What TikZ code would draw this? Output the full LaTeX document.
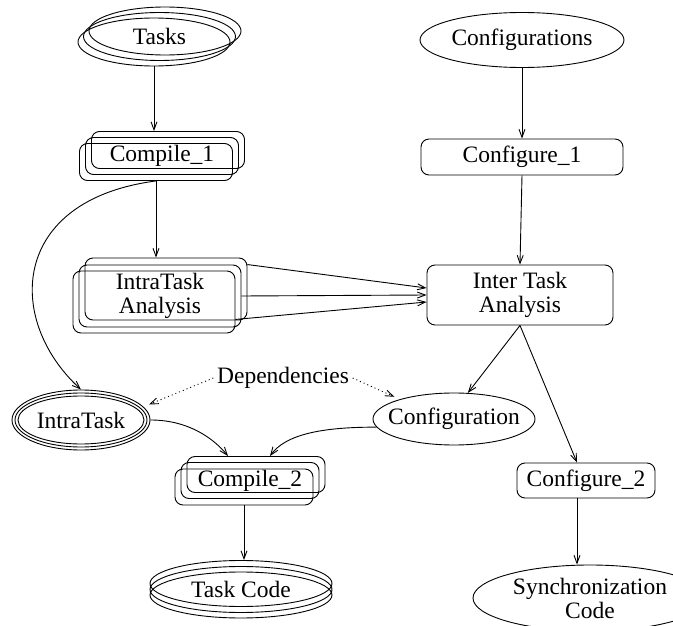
\documentclass[tikz,border=0pt]{standalone}
\usepackage{fontspec}
\setmainfont{Liberation Serif}
\usetikzlibrary{arrows.meta,shapes.geometric}
\begin{document}
\begin{tikzpicture}[x=1pt, y=-1pt, line width=0.9pt,
        >={Straight Barb[length=8pt,width=6pt]},
        every node/.style={font=\fontsize{23.5}{24}\selectfont, align=center},
        oval/.style={draw, ellipse, inner xsep=-12pt, inner ysep=-6pt},
        rbox/.style={draw, rounded corners=8pt},
        taskoval/.style={oval, minimum width=152pt, minimum height=48pt},
        compbox/.style={rbox, minimum width=153pt, minimum height=37pt},
        anabox/.style={rbox, minimum width=162pt, minimum height=62pt},
        compbox2/.style={rbox, minimum width=138pt, minimum height=36pt},
        codeoval/.style={oval, minimum width=182pt, minimum height=46pt},
        dep/.style={dash pattern=on 1pt off 3pt, shorten >=6pt}]
            \useasboundingbox (0,0) rectangle (673,626);
            \node[taskoval] (tasksa) at (165,31) {};
            \node[taskoval] (tasks) at (159.5,36.5) {Tasks};
            \node[taskoval] (tasksc) at (154,42) {};
            \node[compbox] (compa) at (168,150) {};
            \node[compbox] (comp) at (162,156) {Compile\_1};
            \node[compbox] (compc) at (156,162) {};
            \node[anabox] (anaa) at (166,289) {};
            \node[anabox] (ana) at (160,296) {IntraTask\\Analysis};
            \node[anabox] (anac) at (154,302) {};
            \node[oval, minimum width=138pt, minimum height=60pt] (intra) at (81,420) {IntraTask};
            \node[oval, minimum width=132pt, minimum height=54pt] (intrab) at (81,420) {};
            \node[oval, minimum width=126pt, minimum height=48pt] (intrac) at (81,420) {};
            \node[compbox2] (compb) at (256,474.5) {};
            \node[compbox2] (comp2) at (250,480.5) {Compile\_2};
            \node[compbox2] (compd) at (244,487) {};
            \node[codeoval] (codea) at (241,583.5) {};
            \node[codeoval] (code) at (241,589.5) {Task Code};
            \node[codeoval] (codec) at (241,595) {};
            \node (deps) at (283,378) {Dependencies};
            \node[oval, minimum width=204pt, minimum height=55pt] (cfgs) at (522,40) {Configurations};
            \node[rbox, minimum width=202pt, minimum height=36pt] (cfg1) at (522,157) {Configure\_1};
            \node[rbox, minimum width=186pt, minimum height=60pt] (inter) at (520,295) {Inter Task\\Analysis};
            \node[oval, minimum width=162pt, minimum height=52pt] (config) at (454,419) {Configuration};
            \node[rbox, minimum width=138pt, minimum height=35pt] (cfg2) at (586,480.5) {Configure\_2};
            \node[oval, inner sep=0pt, minimum width=234pt, minimum height=66pt] (sync) at (590,598) {Synchronization\\Code};
            \draw[->] (tasksc.south) -- (tasksc.south |- compa.north);
            \draw[->] (compc.south) -- (compc.south |- anaa.north);
            \draw[->] (compc.south) .. controls (10,200) and (5,320) .. (intra.north);
            \draw[->] ([yshift=-7pt]anaa.north east) -- ([yshift=7pt]inter.west);
            \draw[->] (ana.east) -- (inter.west);
            \draw[->] ([yshift=14pt]anac.south east) -- ([yshift=-7pt]inter.west);
            \draw[->] (cfgs.south) -- (cfg1.north);
            \draw[->] (cfg1.south) -- (inter.north);
            \draw[->] (inter.south) -- (config.62);
            \draw[->] (inter.south) -- ([xshift=-9pt]cfg2.north);
            \draw[->] ([xshift=-9pt]cfg2.south) -- ([xshift=-9pt]cfg2.south |- sync.north);
            \draw[->] (intra.east) .. controls (190,420) and (215,440) .. ([xshift=-28pt]compb.north);
            \draw[->] (config.186) .. controls (320,427) and (285,435) .. ([xshift=14pt]compb.north);
            \draw[->] (compd.south) -- (compd.south |- codea.north);
            \draw[->, dep] (deps.west) -- (intra.12);
            \draw[->, dep] (deps.east) -- (config.160);
        \end{tikzpicture}
\end{document}
